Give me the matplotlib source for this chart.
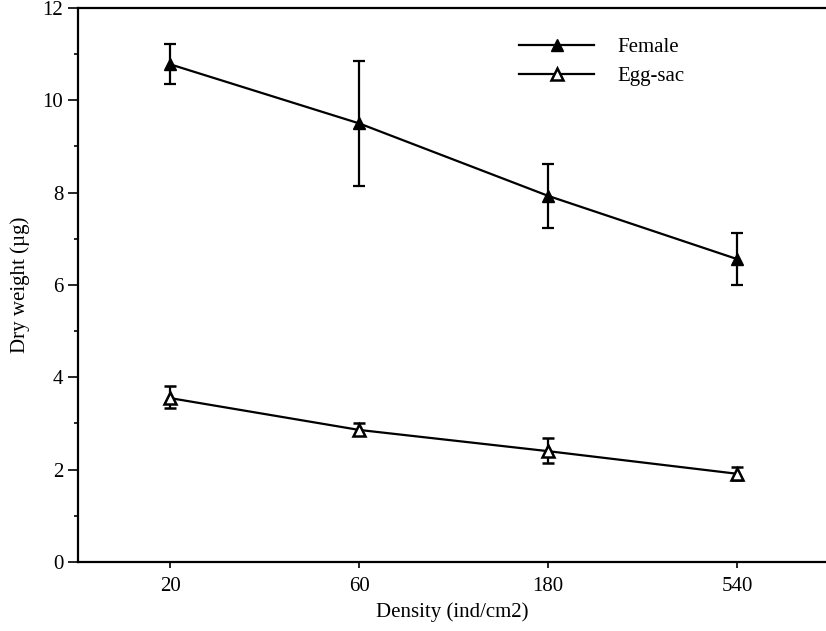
import numpy as np
import matplotlib
matplotlib.use("Agg")
import matplotlib.pyplot as plt
from matplotlib.ticker import MultipleLocator

plt.rcParams['font.family'] = ['Liberation Serif', 'DejaVu Serif']

density = ["20", "60", "180", "540"]
female = [10.78, 9.50, 7.93, 6.56]
female_hi = [11.22, 10.85, 8.62, 7.13]
female_lo = [10.35, 8.14, 7.23, 6.00]
eggsac = [3.55, 2.86, 2.40, 1.91]
eggsac_hi = [3.81, 3.01, 2.69, 2.06]
eggsac_lo = [3.34, 2.74, 2.14, 1.78]

x = np.arange(len(density))
female = np.array(female)
eggsac = np.array(eggsac)
f_err = [female - np.array(female_lo), np.array(female_hi) - female]
e_err = [eggsac - np.array(eggsac_lo), np.array(eggsac_hi) - eggsac]

fs = 15

fig = plt.figure(figsize=(8.26, 6.31), dpi=100)
ax = fig.add_axes([0.0944, 0.1094, 0.9056, 0.878])

c1 = ax.errorbar(x, female, yerr=f_err, color='black', lw=1.6, marker='^', ms=9,
                 mfc='black', mec='black', capsize=4, capthick=1.6, elinewidth=1.6)
c2 = ax.errorbar(x, eggsac, yerr=e_err, color='black', lw=1.6, marker='^', ms=8,
                 mfc='white', mec='black', mew=1.8, capsize=4, capthick=1.6,
                 elinewidth=1.6)

ax.set_xlim(-0.487, 3.47)
ax.set_ylim(0, 12)
ax.set_xticks(x)
ax.set_xticklabels(density)
ax.yaxis.set_major_locator(MultipleLocator(2))
ax.yaxis.set_minor_locator(MultipleLocator(1))
ax.tick_params(axis='y', which='major', length=7, width=1.2, labelsize=fs, direction='out')
ax.tick_params(axis='y', which='minor', length=3, width=1.2, direction='out')
ax.tick_params(axis='x', length=4, width=1.2, labelsize=fs, direction='out', pad=7)

for side in ['left', 'bottom', 'top']:
    ax.spines[side].set_linewidth(1.6)
ax.spines['right'].set_visible(False)

ax.set_xlabel("Density (ind/cm2)", fontsize=fs, labelpad=4)
ax.set_ylabel("Dry weight (\u00b5g)", fontsize=fs, labelpad=9)

ax.legend([c1[0], c2[0]], ["Female", "Egg-sac"], loc='upper left',
          bbox_to_anchor=(0.565, 0.98), frameon=False, fontsize=fs,
          handlelength=3.6, handletextpad=1.1, labelspacing=0.45)

fig.savefig("out.png", dpi=100)
